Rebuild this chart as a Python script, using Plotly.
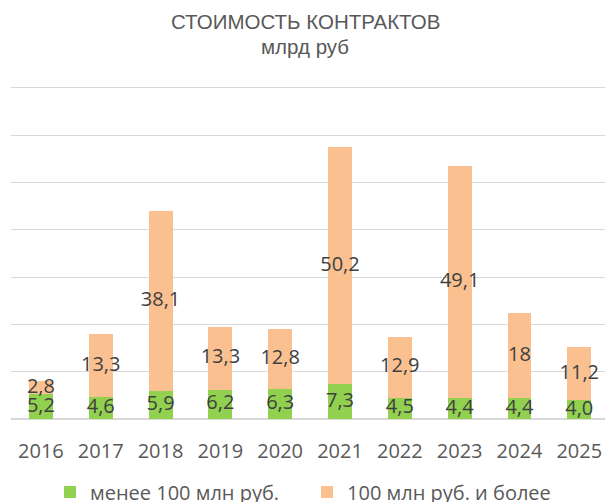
import plotly.graph_objects as go

years = ["2016", "2017", "2018", "2019", "2020", "2021", "2022", "2023", "2024", "2025"]
small = [5.2, 4.6, 5.9, 6.2, 6.3, 7.3, 4.5, 4.4, 4.4, 4.0]
large = [2.8, 13.3, 38.1, 13.3, 12.8, 50.2, 12.9, 49.1, 18, 11.2]
small_labels = ["5,2", "4,6", "5,9", "6,2", "6,3", "7,3", "4,5", "4,4", "4,4", "4,0"]
large_labels = ["2,8", "13,3", "38,1", "13,3", "12,8", "50,2", "12,9", "49,1", "18", "11,2"]
series_names = ["менее 100 млн руб.", "100 млн руб. и более"]
title_text = "СТОИМОСТЬ КОНТРАКТОВ"
subtitle_text = "млрд руб"

GREEN = "#92D050"
ORANGE = "#FAC090"
TXT = "#404040"
FONT = "Open Sans"

fig = go.Figure()
fig.add_trace(go.Bar(x=years, y=small, name=series_names[0], marker=dict(color=GREEN, line=dict(width=0)), width=0.4))
fig.add_trace(go.Bar(x=years, y=large, name=series_names[1], marker=dict(color=ORANGE, line=dict(width=0)), width=0.4))

# data labels centred in each segment
fig.add_trace(go.Scatter(x=years, y=[s / 2 for s in small], text=small_labels, mode="text",
                         textfont=dict(family=FONT, size=20, color=TXT), showlegend=False,
                         hoverinfo="skip", cliponaxis=False))
fig.add_trace(go.Scatter(x=years, y=[s + l / 2 for s, l in zip(small, large)], text=large_labels, mode="text",
                         textfont=dict(family=FONT, size=20, color=TXT), showlegend=False,
                         hoverinfo="skip", cliponaxis=False))

fig.update_layout(
    width=605, height=502,
    barmode="stack",
    margin=dict(l=11, r=0, t=83, b=83, autoexpand=False),
    plot_bgcolor="white", paper_bgcolor="white",
    showlegend=True,
    legend=dict(orientation="h", x=0.0657, xanchor="left", yref="container", y=0.02, yanchor="middle",
                entrywidth=212, entrywidthmode="pixels",
                font=dict(family=FONT, size=20, color="#595959"), traceorder="normal"),
    xaxis=dict(type="category", range=[-0.5, 9.43], showgrid=False, showline=False,
               ticks="", tickfont=dict(family=FONT, size=20, color="#595959"), ticklabelstandoff=18),
    yaxis=dict(range=[0, 71], dtick=10, showticklabels=False, showgrid=True,
               gridcolor="#D9D9D9", gridwidth=1.3, zeroline=True, zerolinecolor="#D9D9D9",
               zerolinewidth=1.5, showline=False),
    annotations=[
        dict(text=title_text, x=0.495, y=1.183, xref="paper", yref="paper", showarrow=False,
             xanchor="center", yanchor="middle", font=dict(family="Liberation Sans", size=20.5, color="#595959")),
        dict(text=subtitle_text, x=0.495, y=1.11, xref="paper", yref="paper", showarrow=False,
             xanchor="center", yanchor="middle", font=dict(family="Liberation Sans", size=20.5, color="#595959")),
    ],
)

fig.write_html("out.html")
